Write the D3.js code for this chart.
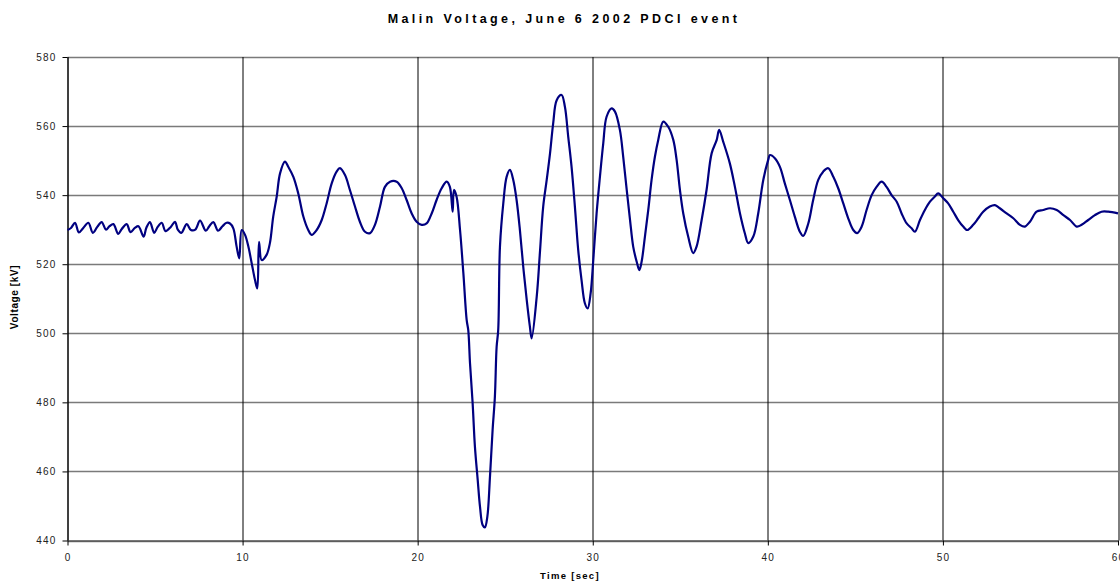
<!DOCTYPE html>
<html>
<head>
<meta charset="utf-8">
<script src="https://cdn.jsdelivr.net/npm/d3@7"></script>
<style>
  body { margin: 0; background: #fff; }
  svg { display: block; font-family: "Liberation Sans", Arial, sans-serif; }
</style>
</head>
<body>
<div id="container"></div>
<script>
// Chart text and ticks.
const titleText = 'Malin Voltage, June 6 2002 PDCI event';
const xLabel = 'Time [sec]';
const yLabel = 'Voltage [kV]';
const xTicks = [0, 10, 20, 30, 40, 50, 60];
const yTicks = [440, 460, 480, 500, 520, 540, 560, 580];

// Time samples [sec].
const timeSec = [
  0, 0.2, 0.43, 0.65, 0.9, 1.19, 1.45, 1.7, 1.95, 2.2, 2.4, 2.62, 2.9, 3.1, 3.38, 3.6, 3.85, 4.05,
  4.35, 4.5, 4.71, 4.95, 5.15, 5.38, 5.6, 5.9, 6.14, 6.3, 6.5, 6.81, 7.05, 7.3, 7.57, 7.9, 8.1,
  8.33, 8.6, 8.85, 9.09, 9.28, 9.47, 9.66, 9.81, 9.95, 10.14, 10.33, 10.52, 10.71, 10.84, 10.94,
  11.09, 11.37, 11.56, 11.75, 11.95, 12.14, 12.42, 12.61, 12.9, 13.18, 13.47, 13.75, 13.94, 14.23,
  14.52, 14.8, 15.09, 15.37, 15.56, 15.85, 16.13, 16.42, 16.7, 16.99, 17.28, 17.56, 17.85, 18.13,
  18.42, 18.8, 19.09, 19.37, 19.66, 19.94, 20.23, 20.51, 20.8, 21.08, 21.37, 21.66, 21.84, 22.0,
  22.07, 22.22, 22.42, 22.61, 22.8, 22.89, 22.99, 23.14, 23.27, 23.43, 23.56, 23.71, 23.84, 23.98,
  24.13, 24.28, 24.41, 24.51, 24.6, 24.7, 24.89, 25.08, 25.27, 25.46, 25.65, 25.84, 26.03, 26.23,
  26.41, 26.51, 26.8, 26.98, 27.17, 27.37, 27.56, 27.74, 27.94, 28.22, 28.41, 28.6, 28.79, 28.98,
  29.17, 29.36, 29.55, 29.71, 29.88, 30.03, 30.22, 30.41, 30.6, 30.79, 31.08, 31.27, 31.55, 31.74,
  31.94, 32.13, 32.31, 32.51, 32.66, 32.79, 32.98, 33.17, 33.36, 33.55, 33.74, 34.03, 34.31, 34.6,
  34.79, 34.98, 35.17, 35.45, 35.74, 35.93, 36.22, 36.5, 36.79, 37.08, 37.22, 37.45, 37.83, 38.12,
  38.41, 38.69, 38.88, 39.17, 39.45, 39.74, 40.02, 40.12, 40.4, 40.69, 40.97, 41.26, 41.54, 41.83,
  42.02, 42.31, 42.59, 42.88, 43.16, 43.45, 43.74, 44.02, 44.31, 44.59, 44.88, 45.1, 45.36, 45.64,
  45.93, 46.21, 46.5, 46.78, 47.07, 47.36, 47.64, 47.93, 48.21, 48.4, 48.69, 48.97, 49.26, 49.54,
  49.73, 50.02, 50.3, 50.59, 50.87, 51.16, 51.39, 51.73, 52.02, 52.3, 52.68, 52.97, 53.25, 53.64,
  54.02, 54.4, 54.68, 54.97, 55.35, 55.73, 56.12, 56.5, 56.88, 57.26, 57.64, 57.92, 58.3, 58.68,
  59.06, 59.44, 60
];

// Voltage [kV] at each time sample.
const voltageKV = [
  529.9, 530.5, 532.0, 529.2, 530.5, 532.0, 529.1, 530.8, 532.2, 530.0, 531.0, 531.6, 528.8, 530.2,
  531.6, 529.3, 530.5, 531.0, 528.0, 530.5, 532.2, 529.1, 530.8, 532.0, 529.6, 530.8, 532.3, 530.0,
  529.1, 531.6, 529.9, 530.0, 532.6, 529.7, 531.0, 532.2, 529.7, 531.0, 532.0, 531.8, 530.4, 525.1,
  521.7, 529.9, 528.5, 525.1, 520.3, 515.4, 513.0, 526.5, 521.2, 522.7, 526.1, 533.8, 539.6, 546.3,
  549.7, 548.2, 545.3, 540.5, 533.8, 529.9, 528.5, 529.9, 532.8, 537.6, 543.4, 546.8, 547.8, 545.8,
  541.5, 536.7, 532.3, 529.4, 529.0, 531.4, 536.7, 542.4, 543.9, 543.9, 542.0, 538.6, 534.7, 532.3,
  531.4, 531.8, 534.7, 538.6, 542.0, 543.9, 542.4, 535.2, 541.5, 539.6, 529.9, 517.4, 503.8, 500.9,
  491.3, 479.7, 467.2, 457.5, 449.8, 444.5, 443.8, 446.9, 458.5, 472.0, 481.6, 496.1, 500.9, 525.1,
  537.6, 545.3, 547.3, 544.4, 538.6, 529.9, 519.3, 509.6, 501.9, 498.5, 510.6, 523.2, 536.7, 544.4,
  552.1, 560.8, 567.5, 569.0, 565.6, 556.9, 548.2, 536.7, 524.1, 515.4, 508.7, 507.2, 511.6, 521.2,
  534.7, 545.3, 555.0, 562.7, 565.1, 564.2, 558.9, 551.1, 541.5, 532.8, 525.1, 520.7, 518.3, 520.7,
  528.0, 535.7, 544.4, 551.1, 556.0, 561.3, 559.8, 556.0, 550.2, 541.5, 534.7, 528.0, 523.2, 525.1,
  532.8, 541.5, 552.1, 556.0, 558.9, 555.5, 549.2, 542.4, 534.7, 528.9, 526.1, 528.0, 534.7, 544.4,
  550.2, 551.6, 550.7, 548.2, 543.4, 538.6, 533.8, 529.4, 528.2, 531.8, 538.6, 544.4, 546.8, 547.8,
  545.3, 542.0, 537.6, 533.3, 529.9, 529.0, 530.9, 535.7, 540.0, 542.4, 543.9, 542.4, 540.0, 538.1,
  534.7, 531.8, 530.4, 529.4, 532.8, 535.7, 538.1, 539.6, 540.5, 539.1, 537.6, 535.2, 532.8, 530.9,
  529.9, 531.4, 533.3, 535.2, 536.7, 537.1, 536.2, 534.7, 533.3, 531.4, 530.9, 532.3, 535.2, 535.7,
  536.2, 535.7, 534.2, 532.8, 530.9, 531.4, 532.8, 534.2, 535.2, 535.2, 534.7
];

const data = timeSec.map((t, i) => ({ t: t, v: voltageKV[i] }));

// Container SVG.
const W = 1120, H = 581;
const margin = { top: 57, right: 2, bottom: 40.5, left: 67.5 },
  width = W - margin.left - margin.right,
  height = H - margin.top - margin.bottom;

const svg = d3.select('#container')
  .append('svg')
  .attr('width', W)
  .attr('height', H);

svg.append('rect').attr('width', W).attr('height', H).attr('fill', '#fff');

const g = svg.append('g')
  .attr('transform', `translate(${margin.left} ${margin.top})`);

// Scales.
const x = d3.scaleLinear().domain([0, 60]).range([0, width]);
const y = d3.scaleLinear().domain([440, 580]).range([height, 0]);

// Horizontal grid.
g.append('g')
  .selectAll('line')
  .data(yTicks)
  .join('line')
  .attr('x1', 0)
  .attr('x2', width)
  .attr('y1', d => Math.round(y(d)) + 0.5)
  .attr('y2', d => Math.round(y(d)) + 0.5)
  .attr('stroke', '#7a7a7a')
  .attr('stroke-width', 1.4);

// Vertical grid.
g.append('g')
  .selectAll('line')
  .data(xTicks)
  .join('line')
  .attr('x1', d => Math.round(x(d)) + 0.5)
  .attr('x2', d => Math.round(x(d)) + 0.5)
  .attr('y1', 0)
  .attr('y2', height)
  .attr('stroke', '#000')
  .attr('stroke-width', 1);

// Axes.
const yAxis = g.append('g')
  .call(d3.axisLeft(y).tickValues(yTicks).tickSize(5).tickPadding(6).tickSizeOuter(0));
const xAxis = g.append('g')
  .attr('transform', `translate(0, ${height})`)
  .call(d3.axisBottom(x).tickValues(xTicks).tickSize(5).tickPadding(8).tickSizeOuter(0));

[yAxis, xAxis].forEach(a => {
  a.select('.domain').attr('stroke', '#000');
  a.selectAll('.tick line').attr('stroke', '#000');
  a.selectAll('.tick text')
    .attr('fill', '#222')
    .attr('font-size', 10)
    .attr('letter-spacing', 1.2)
    .attr('font-family', '"Liberation Sans", Arial, sans-serif');
});
xAxis.select('.domain').attr('stroke', '#555').attr('stroke-width', 1.4);

// The voltage trace.
const line = d3.line()
  .curve(d3.curveCatmullRom.alpha(0.5))
  .x(d => x(d.t))
  .y(d => y(d.v));

g.append('path')
  .datum(data)
  .attr('d', line)
  .attr('fill', 'none')
  .attr('stroke', '#000080')
  .attr('stroke-width', 2.2)
  .attr('stroke-linejoin', 'round');

// Title and axis titles.
svg.append('text')
  .attr('x', 564)
  .attr('y', 23)
  .attr('text-anchor', 'middle')
  .attr('font-size', 12.5)
  .attr('font-weight', 'bold')
  .attr('letter-spacing', 3.4)
  .text(titleText);

svg.append('text')
  .attr('x', 570)
  .attr('y', 579)
  .attr('text-anchor', 'middle')
  .attr('font-size', 9.5)
  .attr('font-weight', 'bold')
  .attr('letter-spacing', 1.3)
  .text(xLabel);

svg.append('text')
  .attr('transform', 'translate(18, 297) rotate(-90)')
  .attr('text-anchor', 'middle')
  .attr('font-size', 10)
  .attr('font-weight', 'bold')
  .attr('letter-spacing', 0.6)
  .text(yLabel);
</script>
</body>
</html>
